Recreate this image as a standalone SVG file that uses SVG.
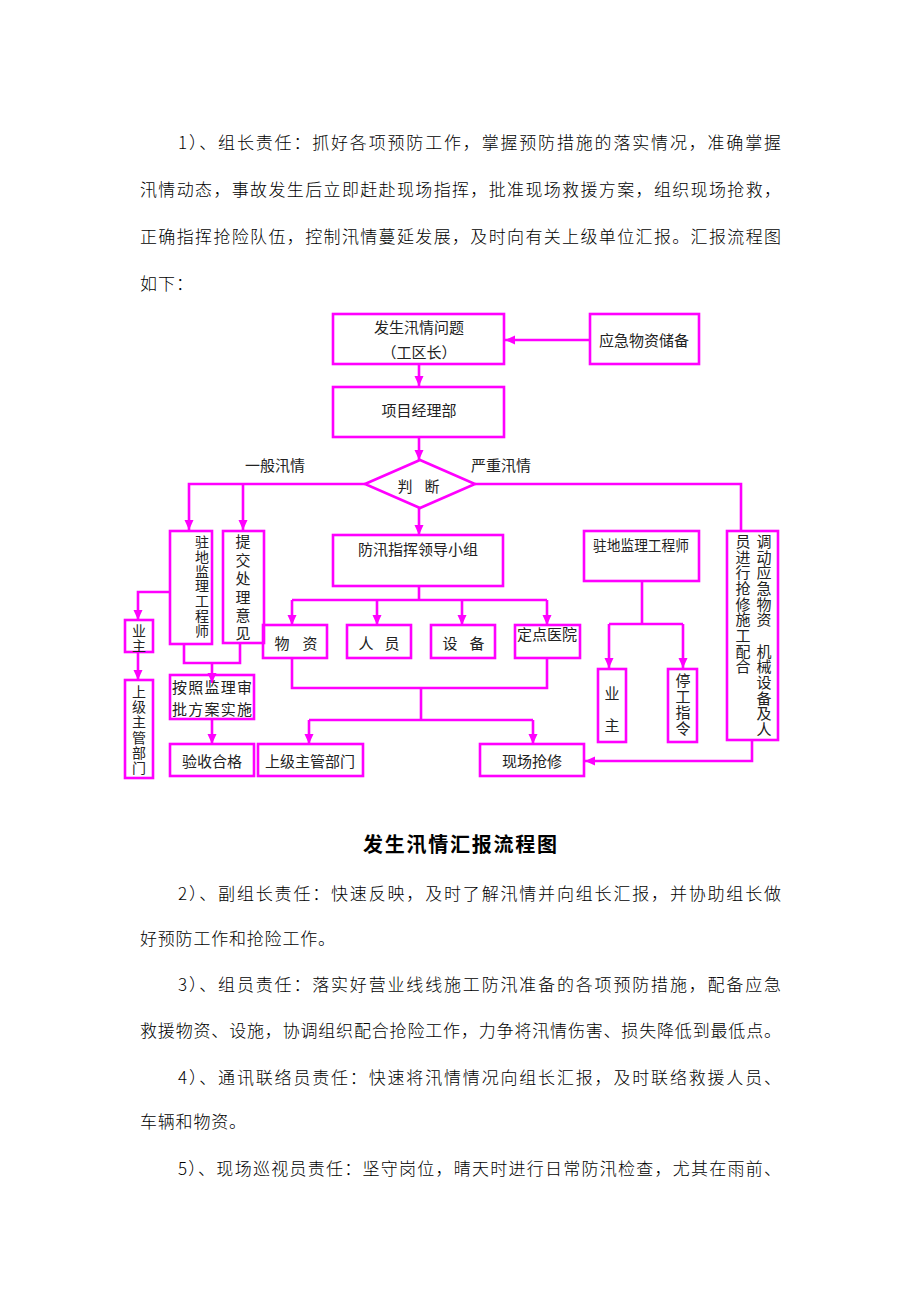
<svg xmlns="http://www.w3.org/2000/svg" width="920" height="1302" viewBox="0 0 920 1302">
<style>
.bg{fill:#fff}
.box{fill:none;stroke:#ff00ff;stroke-width:2.6}
.ln{fill:none;stroke:#ff00ff;stroke-width:2.6}
.ar{fill:none;stroke:#ff00ff;stroke-width:2.6;marker-end:url(#ah)}
.t{font-family:"Noto Sans CJK SC","Noto Sans",sans-serif;font-size:15px;fill:#222;text-anchor:middle}
.s{font-size:14px}
.p{font-family:"Noto Sans CJK SC","Noto Sans",sans-serif;font-size:17px;fill:#000;font-weight:300}
.h{font-family:"Noto Sans CJK SC","Noto Sans",sans-serif;font-size:20px;fill:#000;font-weight:bold}
</style>
<defs>
<marker id="ah" viewBox="0 0 10 10" refX="10" refY="5" markerWidth="10" markerHeight="10" markerUnits="userSpaceOnUse" orient="auto">
<path d="M0,0.5 L10,5 L0,9.5 z" fill="#ff00ff"/>
</marker>
</defs>
<rect class="bg" x="0" y="0" width="920" height="1302"/>

<g id="para1">
<text class="p" x="178" y="149" textLength="603" lengthAdjust="spacing">1）、组长责任：抓好各项预防工作，掌握预防措施的落实情况，准确掌握</text>
<text class="p" x="140" y="196" textLength="641" lengthAdjust="spacing">汛情动态，事故发生后立即赶赴现场指挥，批准现场救援方案，组织现场抢救，</text>
<text class="p" x="140" y="243" textLength="641" lengthAdjust="spacing">正确指挥抢险队伍，控制汛情蔓延发展，及时向有关上级单位汇报。汇报流程图</text>
<text class="p" x="140" y="290" letter-spacing="1">如下：</text>
</g>

<g id="connectors">
<path class="ar" d="M589,340 H505"/>
<path class="ar" d="M419,364 V386"/>
<path class="ar" d="M419,437 V460"/>
<path class="ar" d="M365,484 H189 V530"/>
<path class="ar" d="M243,484 V530"/>
<path class="ar" d="M419,508 V535"/>
<path class="ln" d="M475,484 H741 V531"/>
<path class="ar" d="M170,592 H138 V620"/>
<path class="ar" d="M138,652 V680"/>
<path class="ln" d="M184,644 V663 H240 V643"/>
<path class="ar" d="M212,663 V683"/>
<path class="ar" d="M212,719 V744"/>
<path class="ln" d="M419,586 V600 M292,600 H547"/>
<path class="ar" d="M292,600 V625"/>
<path class="ar" d="M377,600 V625"/>
<path class="ar" d="M462,600 V625"/>
<path class="ar" d="M547,600 V625"/>
<path class="ln" d="M292,658 V688 H547 V658 M421,688 V720 M309,720 H533"/>
<path class="ar" d="M309,720 V744"/>
<path class="ar" d="M533,720 V744"/>
<path class="ln" d="M642,581 V624 M609,624 H683"/>
<path class="ar" d="M609,624 V668"/>
<path class="ar" d="M683,624 V668"/>
<path class="ar" d="M752,740 V761 H585"/>
</g>

<g id="n_event">
<rect class="box" x="333" y="314" width="171" height="50"/>
<text class="t" x="419" y="333">发生汛情问题</text>
<text class="t" x="419" y="358">（工区长）</text>
</g>
<g id="n_reserve">
<rect class="box" x="590" y="314" width="109" height="50"/>
<text class="t" x="644" y="346">应急物资储备</text>
</g>
<g id="n_pm">
<rect class="box" x="333" y="387" width="171" height="50"/>
<text class="t" x="419" y="416">项目经理部</text>
</g>
<g id="n_judge">
<polygon class="box" points="365,484 420,460 475,484 420,508"/>
<text class="t" y="492"><tspan x="405">判</tspan><tspan x="432">断</tspan></text>
</g>
<g id="lbl_general">
<text class="t" x="275" y="471">一般汛情</text>
</g>
<g id="lbl_severe">
<text class="t" x="501" y="471">严重汛情</text>
</g>
<g id="n_super_l">
<rect class="box" x="170" y="531" width="42" height="113"/>
<text class="t s"><tspan x="202" y="547">驻</tspan><tspan x="202" y="562">地</tspan><tspan x="202" y="577">监</tspan><tspan x="202" y="591">理</tspan><tspan x="202" y="606">工</tspan><tspan x="202" y="621">程</tspan><tspan x="202" y="636">师</tspan></text>
</g>
<g id="n_submit">
<rect class="box" x="223" y="531" width="41" height="112"/>
<text class="t"><tspan x="243" y="547">提</tspan><tspan x="243" y="566">交</tspan><tspan x="243" y="584">处</tspan><tspan x="243" y="603">理</tspan><tspan x="243" y="621">意</tspan><tspan x="243" y="639">见</tspan></text>
</g>
<g id="n_owner_l">
<rect class="box" x="125" y="620" width="28" height="32"/>
<text class="t s"><tspan x="139" y="636">业</tspan><tspan x="139" y="651">主</tspan></text>
</g>
<g id="n_upper_v">
<rect class="box" x="125" y="680" width="28" height="98"/>
<text class="t s"><tspan x="139" y="697">上</tspan><tspan x="139" y="712">级</tspan><tspan x="139" y="727">主</tspan><tspan x="139" y="743">管</tspan><tspan x="139" y="758">部</tspan><tspan x="139" y="773">门</tspan></text>
</g>
<g id="n_approve">
<rect class="box" x="170" y="675" width="84" height="44"/>
<text class="t" x="172" y="693" textLength="80" lengthAdjust="spacing" style="text-anchor:start">按照监理审</text>
<text class="t" x="172" y="715" textLength="80" lengthAdjust="spacing" style="text-anchor:start">批方案实施</text>
</g>
<g id="n_accept">
<rect class="box" x="170" y="744" width="84" height="32"/>
<text class="t" x="212" y="767">验收合格</text>
</g>
<g id="n_upper_h">
<rect class="box" x="258" y="744" width="105" height="32"/>
<text class="t" x="310" y="767">上级主管部门</text>
</g>
<g id="n_repair">
<rect class="box" x="480" y="744" width="104" height="32"/>
<text class="t" x="532" y="767">现场抢修</text>
</g>
<g id="n_team">
<rect class="box" x="333" y="535" width="170" height="51"/>
<text class="t" x="418" y="555">防汛指挥领导小组</text>
</g>
<g id="n_material">
<rect class="box" x="263" y="625" width="64" height="33"/>
<text class="t" y="649"><tspan x="282">物</tspan><tspan x="310">资</tspan></text>
</g>
<g id="n_people">
<rect class="box" x="347" y="625" width="64" height="33"/>
<text class="t" y="649"><tspan x="366">人</tspan><tspan x="392">员</tspan></text>
</g>
<g id="n_equip">
<rect class="box" x="431" y="625" width="64" height="33"/>
<text class="t" y="649"><tspan x="450">设</tspan><tspan x="477">备</tspan></text>
</g>
<g id="n_hospital">
<rect class="box" x="515" y="625" width="65" height="33"/>
<text class="t" x="547" y="640" textLength="60" lengthAdjust="spacingAndGlyphs">定点医院</text>
</g>
<g id="n_super_r">
<rect class="box" x="584" y="531" width="115" height="50"/>
<text class="t" x="641" y="551" textLength="96" lengthAdjust="spacingAndGlyphs">驻地监理工程师</text>
</g>
<g id="n_owner_r">
<rect class="box" x="598" y="669" width="28" height="73"/>
<text class="t"><tspan x="612" y="699">业</tspan><tspan x="612" y="731">主</tspan></text>
</g>
<g id="n_stop">
<rect class="box" x="668" y="669" width="29" height="73"/>
<text class="t"><tspan x="683" y="686">停</tspan><tspan x="683" y="702">工</tspan><tspan x="683" y="718">指</tspan><tspan x="683" y="734">令</tspan></text>
</g>
<g id="n_dispatch">
<rect class="box" x="727" y="531" width="51" height="209"/>
<text class="t"><tspan x="764" y="547">调</tspan><tspan x="764" y="563">动</tspan><tspan x="764" y="578">应</tspan><tspan x="764" y="594">急</tspan><tspan x="764" y="610">物</tspan><tspan x="764" y="625">资</tspan><tspan x="764" y="657">机</tspan><tspan x="764" y="672">械</tspan><tspan x="764" y="688">设</tspan><tspan x="764" y="704">备</tspan><tspan x="764" y="719">及</tspan><tspan x="764" y="735">人</tspan></text>
<text class="t"><tspan x="743" y="547">员</tspan><tspan x="743" y="563">进</tspan><tspan x="743" y="578">行</tspan><tspan x="743" y="594">抢</tspan><tspan x="743" y="610">修</tspan><tspan x="743" y="625">施</tspan><tspan x="743" y="641">工</tspan><tspan x="743" y="657">配</tspan><tspan x="743" y="672">合</tspan></text>
</g>

<g id="title">
<text class="h" x="363" y="852" textLength="194" lengthAdjust="spacing">发生汛情汇报流程图</text>
</g>

<g id="para2">
<text class="p" x="178" y="900" textLength="603" lengthAdjust="spacing">2）、副组长责任：快速反映，及时了解汛情并向组长汇报，并协助组长做</text>
<text class="p" x="140" y="945" letter-spacing="0.8">好预防工作和抢险工作。</text>
<text class="p" x="178" y="991" textLength="603" lengthAdjust="spacing">3）、组员责任：落实好营业线线施工防汛准备的各项预防措施，配备应急</text>
<text class="p" x="140" y="1037" textLength="641" lengthAdjust="spacing">救援物资、设施，协调组织配合抢险工作，力争将汛情伤害、损失降低到最低点。</text>
<text class="p" x="178" y="1084" textLength="603" lengthAdjust="spacing">4）、通讯联络员责任：快速将汛情情况向组长汇报，及时联络救援人员、</text>
<text class="p" x="140" y="1128" letter-spacing="0.8">车辆和物资。</text>
<text class="p" x="178" y="1175" textLength="603" lengthAdjust="spacing">5）、现场巡视员责任：坚守岗位，晴天时进行日常防汛检查，尤其在雨前、</text>
</g>
</svg>
